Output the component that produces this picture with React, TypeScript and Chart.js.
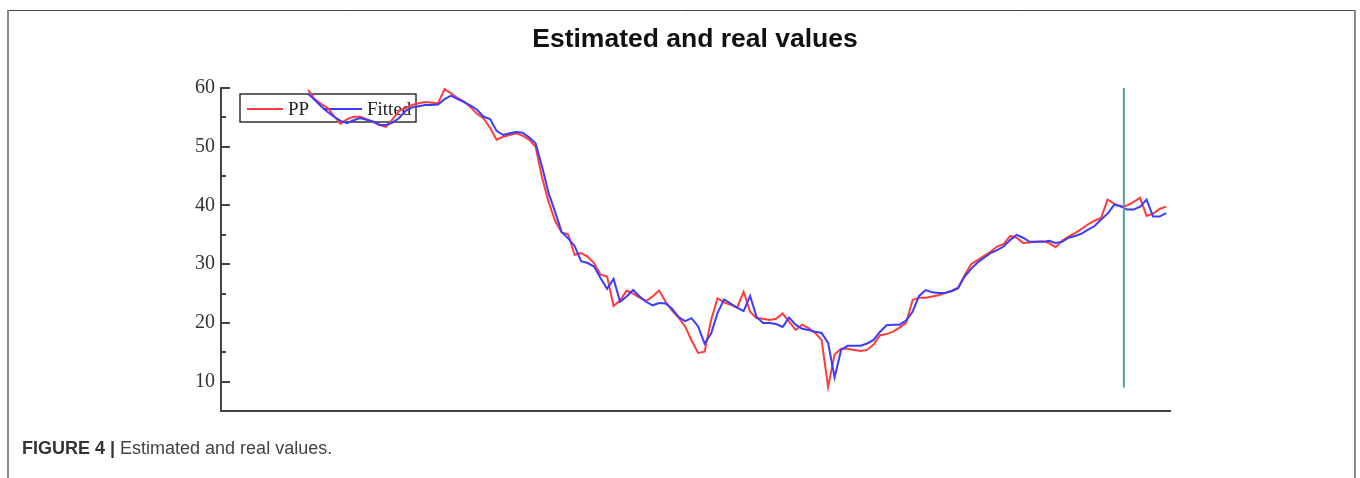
import React, { useEffect, useRef } from "react";
import { Chart, registerables } from "chart.js";
Chart.register(...registerables);

const SERIES_NAMES = ["PP", "Fitted"];

const PP = [
  59.7, 58.1, 57.3, 56.6, 55.2, 53.9, 54.7, 55.1, 55.1, 54.7,
  54.2, 53.7, 53.4, 54.7, 56.1, 56.6, 57.1, 57.4, 57.6, 57.5,
  57.4, 59.8, 59.1, 58.3, 57.7, 56.7, 55.6, 54.8, 53.2, 51.2,
  51.7, 52.0, 52.3, 51.9, 51.2, 50.0, 44.7, 40.6, 37.4, 35.4,
  35.1, 31.6, 31.9, 31.3, 30.2, 28.2, 27.9, 22.9, 23.8, 25.5,
  25.0, 24.3, 23.7, 24.5, 25.5, 23.6, 22.1, 20.9, 19.4, 17.0,
  14.9, 15.1, 20.5, 24.2, 23.5, 23.1, 22.6, 25.3, 21.9, 20.8,
  20.7, 20.5, 20.7, 21.6, 20.2, 18.8, 19.7, 19.1, 18.3, 17.1,
  9.1, 14.6, 15.6, 15.6, 15.4, 15.2, 15.4, 16.3, 17.9, 18.1,
  18.5, 19.2, 20.0, 23.9, 24.3, 24.3, 24.5, 24.7, 25.1, 25.5,
  26.0, 28.1, 30.0, 30.7, 31.4, 32.1, 33.0, 33.4, 34.8, 34.5,
  33.6, 33.7, 33.8, 33.9, 33.6, 32.9, 34.0, 34.7, 35.3, 36.0,
  36.8, 37.4, 37.9, 41.0, 40.3, 39.8, 40.0, 40.6, 41.3, 38.2,
  38.6, 39.4, 39.8,
];

const FITTED = [
  59.0, 58.0, 56.9, 55.9, 55.1, 54.4, 54.0, 54.5, 54.9, 54.6,
  54.3, 53.7, 53.7, 54.1, 54.9, 56.1, 56.7, 56.9, 57.1, 57.1,
  57.2, 58.1, 58.7, 58.1, 57.6, 57.0, 56.3, 55.1, 54.7, 52.7,
  52.0, 52.3, 52.5, 52.4, 51.6, 50.6, 46.6, 42.1, 38.9, 35.5,
  34.4, 33.1, 30.5, 30.2, 29.6, 27.6, 25.8, 27.5, 23.6, 24.5,
  25.6, 24.5, 23.6, 23.0, 23.4, 23.3, 22.4, 21.0, 20.3, 20.8,
  19.4, 16.5, 18.2, 21.7, 24.0, 23.3, 22.6, 22.0, 24.6, 21.0,
  20.0, 20.0, 19.8, 19.3, 20.9, 19.7, 19.0, 18.8, 18.5, 18.3,
  16.6, 10.7, 15.4, 16.1, 16.1, 16.1, 16.5, 17.1, 18.5, 19.6,
  19.7, 19.7, 20.4, 21.9, 24.6, 25.6, 25.2, 25.1, 25.1, 25.4,
  25.9, 27.9, 29.2, 30.3, 31.1, 31.9, 32.4, 33.0, 34.1, 35.0,
  34.5, 33.8, 33.8, 33.8, 34.0, 33.6, 33.8, 34.5, 34.8, 35.2,
  35.9, 36.5, 37.6, 38.6, 40.1, 39.9, 39.3, 39.3, 39.8, 41.0,
  38.1, 38.1, 38.7,
];

const Y_TICKS = [10, 20, 30, 40, 50, 60];
const Y_MINOR_TICKS = [15, 25, 35, 45, 55];
const Y_MIN = 5;
const Y_MAX = 60;
const X_MIN = -13.4;
const X_MAX = 132.6;
const MARKER_X = 125.5;
const MARKER_Y = [9, 60];

const TITLE = "Estimated and real values";
const CAPTION_BOLD = "FIGURE 4 |";
const CAPTION_TEXT = " Estimated and real values.";

export default function App() {
  const ref = useRef<HTMLCanvasElement>(null);

  useEffect(() => {
    document.body.style.margin = "0";
    const canvas = ref.current!;

    const decor = {
      id: "decor",
      beforeDatasetsDraw(chart: any) {
        const ctx = chart.ctx;
        ctx.save();
        // legend box
        ctx.strokeStyle = "#333";
        ctx.lineWidth = 1.5;
        ctx.strokeRect(240, 94, 176, 28);
        ctx.lineWidth = 2;
        ctx.strokeStyle = "#ff3c3c";
        ctx.beginPath();
        ctx.moveTo(247, 109);
        ctx.lineTo(283, 109);
        ctx.stroke();
        ctx.strokeStyle = "#3c3cff";
        ctx.beginPath();
        ctx.moveTo(323, 109);
        ctx.lineTo(362, 109);
        ctx.stroke();
        ctx.fillStyle = "#222";
        ctx.font = "19px 'Liberation Serif'";
        ctx.textBaseline = "alphabetic";
        ctx.textAlign = "left";
        ctx.fillText(SERIES_NAMES[0], 288, 115);
        ctx.fillText(SERIES_NAMES[1], 367, 115);
        ctx.restore();
      },
      afterDraw(chart: any) {
        const ctx = chart.ctx;
        const y = chart.scales.y;
        const left = chart.chartArea.left;
        ctx.save();
        // inward tick marks
        ctx.strokeStyle = "#444";
        ctx.lineWidth = 2;
        Y_TICKS.forEach((v) => {
          const py = Math.round(y.getPixelForValue(v));
          ctx.beginPath();
          ctx.moveTo(left, py);
          ctx.lineTo(left + 9, py);
          ctx.stroke();
        });
        Y_MINOR_TICKS.forEach((v) => {
          const py = Math.round(y.getPixelForValue(v));
          ctx.beginPath();
          ctx.moveTo(left, py);
          ctx.lineTo(left + 5, py);
          ctx.stroke();
        });
        // frame
        ctx.strokeStyle = "#444";
        ctx.lineWidth = 1;
        ctx.beginPath();
        ctx.moveTo(7, 10.5);
        ctx.lineTo(1356, 10.5);
        ctx.stroke();
        ctx.strokeStyle = "#8a8a8a";
        ctx.lineWidth = 2;
        ctx.beginPath();
        ctx.moveTo(8, 10);
        ctx.lineTo(8, 478);
        ctx.moveTo(1355, 10);
        ctx.lineTo(1355, 478);
        ctx.stroke();
        // title
        ctx.fillStyle = "#111";
        ctx.font = "bold 26.5px 'Liberation Sans'";
        ctx.textAlign = "center";
        ctx.textBaseline = "alphabetic";
        ctx.fillText(TITLE, 695, 47);
        // caption
        ctx.textAlign = "left";
        ctx.font = "bold 18px 'Liberation Sans'";
        ctx.fillStyle = "#333";
        ctx.fillText(CAPTION_BOLD, 22, 454);
        const w = ctx.measureText(CAPTION_BOLD).width;
        ctx.font = "18px 'Liberation Sans'";
        ctx.fillStyle = "#444";
        ctx.fillText(CAPTION_TEXT, 22 + w, 454);
        ctx.restore();
      },
    };

    const chart = new Chart(canvas, {
      type: "line",
      data: {
        datasets: [
          {
            label: SERIES_NAMES[0],
            data: PP.map((v, i) => ({ x: i, y: v })),
            borderColor: "#ff3c3c",
            borderWidth: 2,
            pointRadius: 0,
            tension: 0,
            fill: false,
            order: 2,
          },
          {
            label: SERIES_NAMES[1],
            data: FITTED.map((v, i) => ({ x: i, y: v })),
            borderColor: "#3c3cff",
            borderWidth: 2,
            pointRadius: 0,
            tension: 0,
            fill: false,
            order: 1,
          },
          {
            label: "marker",
            data: MARKER_Y.map((v) => ({ x: MARKER_X, y: v })),
            borderColor: "#5f9c96",
            borderWidth: 2,
            pointRadius: 0,
            fill: false,
            order: 0,
          },
        ],
      },
      options: {
        animation: false,
        responsive: false,
        events: [],
        layout: { padding: { left: 171, right: 190, top: 88, bottom: 67 } },
        plugins: {
          legend: { display: false },
          title: { display: false },
          tooltip: { enabled: false },
        },
        scales: {
          x: {
            type: "linear",
            min: X_MIN,
            max: X_MAX,
            grid: { display: false },
            ticks: { display: false },
            border: { display: true, color: "#444", width: 2 },
            afterFit: (s: any) => {
              s.height = 0;
            },
          },
          y: {
            type: "linear",
            min: Y_MIN,
            max: Y_MAX,
            grid: { display: false, drawTicks: false },
            border: { display: true, color: "#444", width: 2 },
            ticks: {
              padding: 6,
              color: "#333",
              font: { family: "'Liberation Serif'", size: 20 },
            },
            afterBuildTicks: (s: any) => {
              s.ticks = Y_TICKS.map((v) => ({ value: v }));
            },
            afterFit: (s: any) => {
              s.width = 50;
            },
          },
        },
      },
      plugins: [decor],
    });

    return () => chart.destroy();
  }, []);

  return <canvas ref={ref} width={1360} height={478} style={{ display: "block" }} />;
}
